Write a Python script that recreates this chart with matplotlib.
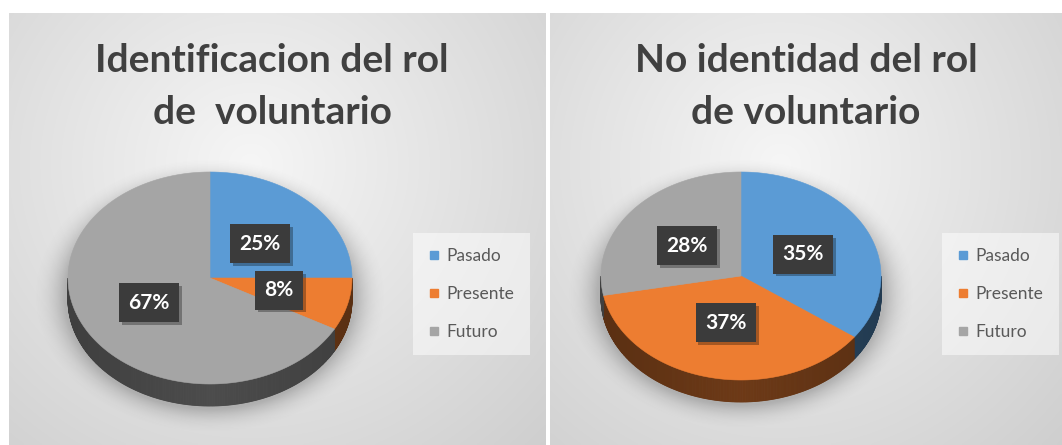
import numpy as np
import matplotlib
matplotlib.use("Agg")
import matplotlib.pyplot as plt
from matplotlib.patches import Polygon
from matplotlib.lines import Line2D
from matplotlib.colors import to_rgb
import matplotlib.patheffects as pe

# ---- data ----
categories = ["Pasado", "Presente", "Futuro"]
values_left = [25, 8, 67]
values_right = [35, 37, 28]
title_left = ["Identificacion del rol", "de  voluntario"]
title_right = ["No identidad del rol", "de voluntario"]

colors = ["#5b9bd5", "#ed7d31", "#a5a5a5"]

W, H = 1062, 445
fig = plt.figure(figsize=(W / 100, H / 100), dpi=100)
fig.patch.set_facecolor("white")

FONT = "Lato"


def panel_axes(x0, x1, y0, y1):
    ax = fig.add_axes([x0 / W, 1 - y1 / H, (x1 - x0) / W, (y1 - y0) / H])
    ax.axis("off")
    # soft radial background
    nx, ny = 200, 160
    xx, yy = np.meshgrid(np.linspace(0, 1, nx), np.linspace(0, 1, ny))
    d = np.sqrt(((xx - 0.45) / 0.75) ** 2 + ((yy - 0.35) / 0.9) ** 2)
    v = 0.965 - 0.15 * np.clip(d, 0, 1.2)
    img = np.dstack([v, v, v])
    ax.imshow(img, extent=(x0, x1, y1, y0), aspect="auto", zorder=0,
              interpolation="bilinear")
    ax.set_xlim(x0, x1)
    ax.set_ylim(y1, y0)
    return ax


def shade(c, f):
    r, g, b = to_rgb(c)
    return (r * f, g * f, b * f)


def pie3d(ax, vals, cx, cy, rx, ry, depth):
    tot = float(sum(vals))
    bounds = np.concatenate([[0], np.cumsum(vals) / tot * 360.0])

    # soft shadow around the disc
    nx, ny = 240, 200
    ex0, ex1 = cx - rx - 40, cx + rx + 40
    ey0, ey1 = cy - ry - 35, cy + ry + depth + 45
    gx, gy = np.meshgrid(np.linspace(ex0, ex1, nx), np.linspace(ey0, ey1, ny))
    dd = np.sqrt(((gx - cx) / (rx + 4)) ** 2 + ((gy - cy - depth * 0.8) / (ry + 8)) ** 2)
    a = np.clip(1 - (dd - 1) / 0.22, 0, 1) ** 2 * 0.35
    sh = np.zeros((ny, nx, 4))
    sh[..., 3] = a
    sh[..., :3] = 0.35
    ax.imshow(sh, extent=(ex0, ex1, ey1, ey0), aspect="auto", zorder=1,
              interpolation="bilinear")

    # side walls (front half only, 90..270 deg measured clockwise from 12 o'clock)
    for i, c in enumerate(colors):
        t0, t1 = max(bounds[i], 90.0), min(bounds[i + 1], 270.0)
        if t1 <= t0:
            continue
        ts = np.linspace(t0, t1, max(int((t1 - t0) * 2), 2))
        for ta, tb in zip(ts[:-1], ts[1:]):
            tm = np.radians((ta + tb) / 2)
            f = 0.46 - 0.08 * abs(np.sin(tm))
            tt = np.radians([ta, tb])
            xs = cx + rx * np.sin(tt)
            ys = cy - ry * np.cos(tt)
            poly = [(xs[0], ys[0]), (xs[1], ys[1]),
                    (xs[1], ys[1] + depth), (xs[0], ys[0] + depth)]
            ax.add_patch(Polygon(poly, closed=True, facecolor=shade(c, f),
                                 edgecolor=shade(c, f), lw=0.6, zorder=2))

    # top faces
    for i, c in enumerate(colors):
        t = np.radians(np.linspace(bounds[i], bounds[i + 1], 200))
        xs = cx + rx * np.sin(t)
        ys = cy - ry * np.cos(t)
        pts = [(cx, cy)] + list(zip(xs, ys))
        ax.add_patch(Polygon(pts, closed=True, facecolor=c, edgecolor=c,
                             lw=0.4, zorder=3))

    # value labels in dark boxes with a drop shadow
    for i, v in enumerate(vals):
        tm = np.radians((bounds[i] + bounds[i + 1]) / 2)
        lx = cx + 0.5 * rx * np.sin(tm)
        ly = cy - 0.46 * ry * np.cos(tm)
        t = ax.text(lx, ly, f"{v}%", ha="center", va="center", fontsize=15,
                    fontweight="bold", family=FONT, color="white",
                    bbox=dict(boxstyle="square,pad=0.45", fc="#3b3b3b", ec="none"),
                    zorder=5)
        t.get_bbox_patch().set_path_effects(
            [pe.SimplePatchShadow(offset=(2, -2), shadow_rgbFace="black",
                                  alpha=0.3), pe.Normal()])


def legend(ax, x, y):
    handles = [Line2D([], [], marker="s", ls="none", markersize=6,
                      markerfacecolor=c, markeredgecolor=c) for c in colors]
    lg = ax.legend(handles, categories, loc="center left",
                   bbox_to_anchor=(x, y), bbox_transform=ax.transData,
                   frameon=True, fancybox=False, framealpha=0.5,
                   facecolor="#ffffff", edgecolor="none", labelspacing=1.25,
                   handlelength=0.7, handletextpad=0.35, borderpad=0.9,
                   prop={"family": FONT, "size": 12.5}, labelcolor="#595959")
    lg.set_zorder(6)


axL = panel_axes(9, 546, 13, 445)
axR = panel_axes(550, 1062, 13, 445)

pie3d(axL, values_left, 210, 278, 142, 106, 22)
pie3d(axR, values_right, 741, 276, 140, 104, 22)

for ax, xc, lines in ((axL, 272, title_left), (axR, 806, title_right)):
    for yb, line in zip((72, 124), lines):
        ax.text(xc, yb, line, ha="center", va="baseline", fontsize=28,
                family=FONT, fontweight="bold", color="#404040", zorder=5)

legend(axL, 404, 294)
legend(axR, 933, 294)

fig.savefig("out.png", dpi=100)
